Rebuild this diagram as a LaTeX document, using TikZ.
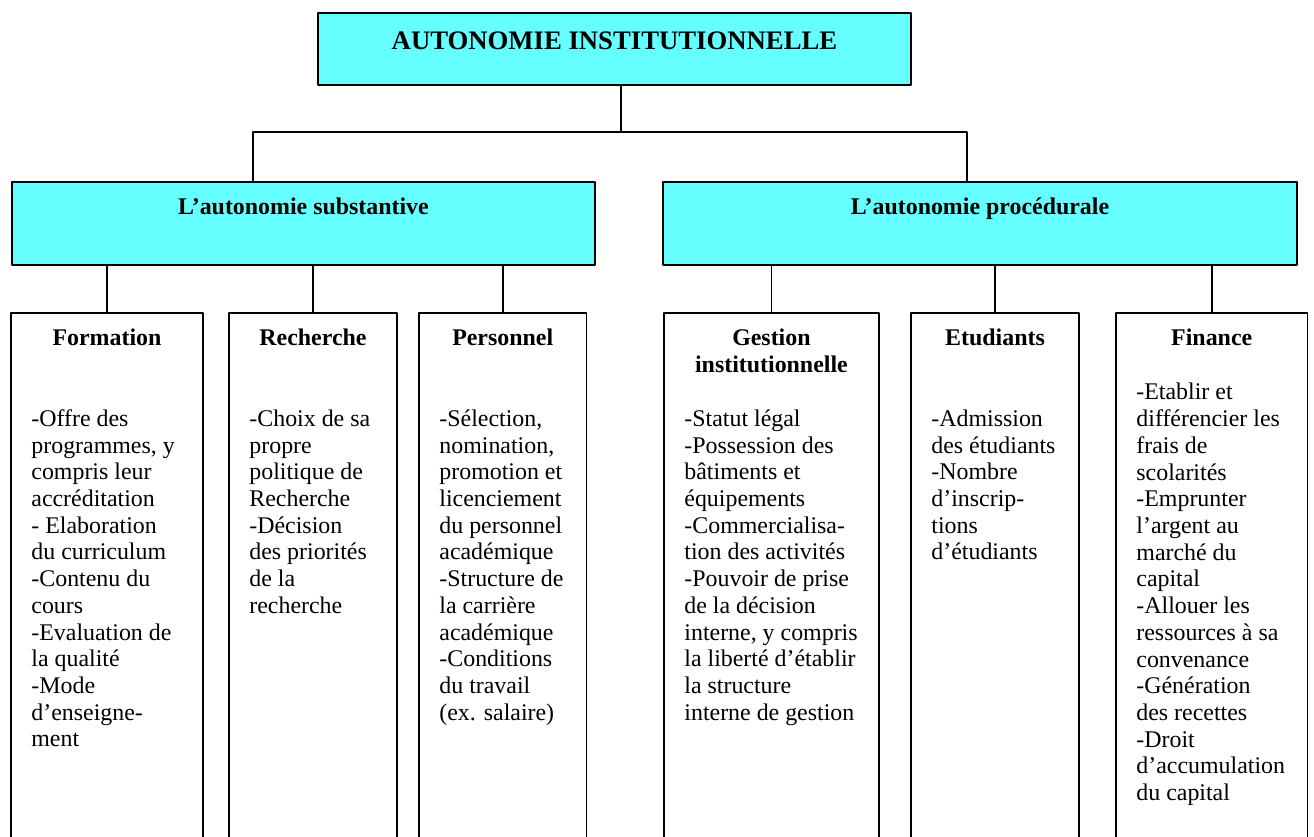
\documentclass[tikz,border=0pt]{standalone}
\usepackage{fontspec}
\setmainfont{Liberation Serif}
\usepackage{xcolor}
\usepackage{tikz}
\usetikzlibrary{positioning,calc}

\definecolor{boxcyan}{HTML}{66FFFF}

\begin{document}
\begin{tikzpicture}[
	x=1cm,y=1cm,
	line cap=round,line join=round,
	cyanbox/.style={draw=black, fill=boxcyan, line width=0.8pt, inner sep=0pt, outer sep=0pt},
	itembox/.style={draw=black, fill=white, line width=0.8pt, inner sep=0pt, outer sep=0pt},
	link/.style={black, line width=0.85pt},
	headtxt/.style={font=\fontsize{11.9}{13.3}\selectfont\bfseries, align=center, inner sep=0pt},
	bodytxt/.style={font=\fontsize{11.9}{13.3}\selectfont, align=left, inner sep=0pt}
	]
	%----- parameters
	\def\W{22.995}
	\def\H{14.6475}
	\def\boxTop{9.17}
	\def\boxH{9.60}
	\def\headY{0.233}
	\def\bodyY{1.65}
	\def\indX{0.35}
	
	\useasboundingbox (0,0) rectangle (\W,\H);
	\clip (0,0) rectangle (\W,\H);
	
	%----- top box
	\node[cyanbox, minimum width=10.378cm, minimum height=1.26cm, anchor=north west] (auto) at (5.565,14.42) {};
	\node[anchor=base, inner sep=0pt, font=\fontsize{13.3}{15}\selectfont\bfseries] (autoTxt)
	at ($(auto.north)+(0,-0.64)$) {AUTONOMIE INSTITUTIONNELLE};
	
	%----- second level
	\node[cyanbox, minimum width=10.2cm, minimum height=1.4525cm, anchor=north west] (subst) at (0.21,11.4625) {};
	\node[cyanbox, minimum width=11.095cm, minimum height=1.4525cm, anchor=north west] (proc) at (11.6025,11.4625) {};
	\node[anchor=base, inner sep=0pt, font=\fontsize{11.9}{13.3}\selectfont\bfseries] (substTxt)
	at ($(subst.north)+(0,-0.5775)$) {L’autonomie substantive};
	\node[anchor=base, inner sep=0pt, font=\fontsize{11.9}{13.3}\selectfont\bfseries] (procTxt)
	at ($(proc.north)+(0,-0.5775)$) {L’autonomie procédurale};
	
	% bar between the two levels
	\coordinate (barL) at (4.4275,12.3375);
	\coordinate (barR) at (16.9225,12.3375);
	\coordinate (barM) at (10.8675,12.3375);
	\draw[link] (auto.south -| barM) -- (barM);
	\draw[link] (barL |- subst.north) -- (barL) -- (barR) -- (barR |- proc.north);
	
	%----- third level boxes
	\node[itembox, minimum width=3.36cm,  minimum height=\boxH cm, anchor=north west] (form) at (0.1925,\boxTop) {};
	\node[itembox, minimum width=2.94cm,  minimum height=\boxH cm, anchor=north west] (rech) at (4.0075,\boxTop) {};
	\node[itembox, minimum width=2.93cm,  minimum height=\boxH cm, anchor=north west] (pers) at (7.3325,\boxTop) {};
	\node[itembox, minimum width=3.76cm,  minimum height=\boxH cm, anchor=north west] (gest) at (11.62,\boxTop) {};
	\node[itembox, minimum width=2.94cm,  minimum height=\boxH cm, anchor=north west] (etud) at (15.9425,\boxTop) {};
	\node[itembox, minimum width=3.35cm,  minimum height=\boxH cm, anchor=north west] (fin)  at (19.53,\boxTop) {};
	
	%----- connectors
	\foreach \b in {form,rech,pers}{
		\draw[link] (\b.north) -- (\b.north |- subst.south);
	}
	\foreach \b in {gest,etud,fin}{
		\draw[link] (\b.north) -- (\b.north |- proc.south);
	}
	
	%----- headings
	\node[headtxt, anchor=north] (formHd) at ($(form.north)+(0,-\headY)$) {\strut Formation};
	\node[headtxt, anchor=north] (rechHd) at ($(rech.north)+(0,-\headY)$) {\strut Recherche};
	\node[headtxt, anchor=north] (persHd) at ($(pers.north)+(0,-\headY)$) {\strut Personnel};
	\node[headtxt, anchor=north] (gestHd) at ($(gest.north)+(0,-\headY)$) {\strut Gestion\\institutionnelle};
	\node[headtxt, anchor=north] (etudHd) at ($(etud.north)+(0,-\headY)$) {\strut Etudiants};
	\node[headtxt, anchor=north] (finHd)  at ($(fin.north)+(0,-\headY)$) {\strut Finance};
	
	%----- item texts
	\node[bodytxt, anchor=north west] (formTxt) at ($(form.north west)+(\indX,-\bodyY)$)
	{\strut -Offre des\\programmes, y\\compris leur\\accréditation\\- Elaboration\\du curriculum\\-Contenu du\\cours\\-Evaluation de\\la qualité\\-Mode\\d’enseigne-\\ment};
	\node[bodytxt, anchor=north west] (rechTxt) at ($(rech.north west)+(\indX,-\bodyY)$)
	{\strut -Choix de sa\\propre\\politique de\\Recherche\\-Décision\\des priorités\\de la\\recherche};
	\node[bodytxt, anchor=north west] (persTxt) at ($(pers.north west)+(\indX,-\bodyY)$)
	{\strut -Sélection,\\nomination,\\promotion et\\licenciement\\du personnel\\académique\\-Structure de\\la carrière\\académique\\-Conditions\\du travail\\(ex. salaire)};
	\node[bodytxt, anchor=north west] (gestTxt) at ($(gest.north west)+(\indX,-\bodyY)$)
	{\strut -Statut légal\\-Possession des\\bâtiments et\\équipements\\-Commercialisa-\\tion des activités\\-Pouvoir de prise\\de la décision\\interne, y compris\\la liberté d’établir\\la structure\\interne de gestion};
	\node[bodytxt, anchor=north west] (etudTxt) at ($(etud.north west)+(\indX,-\bodyY)$)
	{\strut -Admission\\des étudiants\\-Nombre\\d’inscrip-\\tions\\d’étudiants};
	\node[bodytxt, anchor=north west] (finTxt) at ($(fin.north west)+(\indX,-1.187)$)
	{\strut -Etablir et\\différencier les\\frais de\\scolarités\\-Emprunter\\l’argent au\\marché du\\capital\\-Allouer les\\ressources à sa\\convenance\\-Génération\\des recettes\\-Droit\\d’accumulation\\du capital};
	
\end{tikzpicture}
\end{document}
